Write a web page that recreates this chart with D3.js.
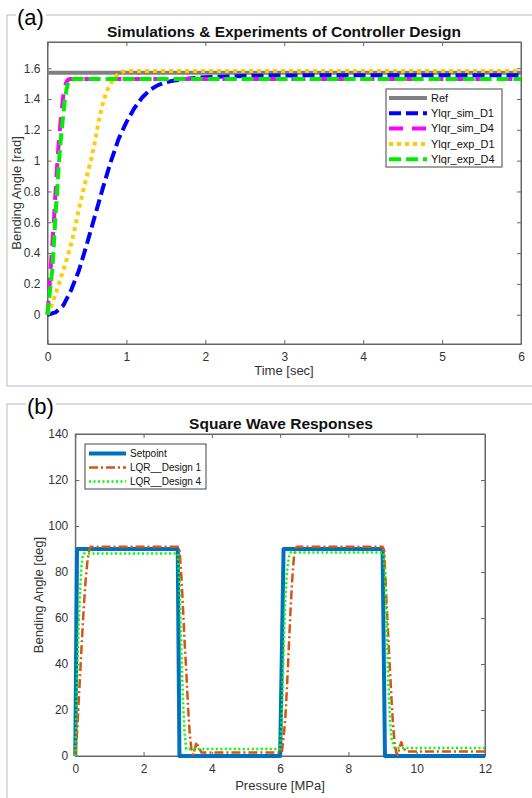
<!DOCTYPE html>
<html>
<head>
<meta charset="utf-8">
<script src="https://cdn.jsdelivr.net/npm/d3@7"></script>
<style>
  body { margin: 0; background: #fff; }
  svg { display: block; font-family: "Liberation Sans", Arial, sans-serif; }
</style>
</head>
<body>
<div id="chart"></div>
<script>
// ---- panel (a) data: time [sec] and bending angle [rad]
var refT = [0, 6];
var refV = [1.5708, 1.5708];

var simD1T = [0, 0.1, 0.2, 0.3, 0.4, 0.5, 0.6, 0.7, 0.8, 0.9, 1.0, 1.1, 1.2, 1.3, 1.4, 1.5, 1.6, 1.8, 2.0, 2.5, 3, 4, 5, 6];
var simD1V = [0, 0.015, 0.06, 0.16, 0.29, 0.46, 0.64, 0.82, 0.99, 1.14, 1.25, 1.34, 1.41, 1.46, 1.49, 1.508, 1.52, 1.533, 1.542, 1.55, 1.553, 1.555, 1.555, 1.555];

var simD4T = [0, 0.02, 0.04, 0.06, 0.08, 0.1, 0.12, 0.14, 0.16, 0.18, 0.2, 0.22, 0.24, 0.26, 0.28, 0.3, 0.4, 6];
var simD4V = [0, 0.15, 0.3, 0.45, 0.6, 0.78, 0.95, 1.1, 1.22, 1.33, 1.42, 1.48, 1.51, 1.525, 1.53, 1.53, 1.53, 1.53];

var expD1T = [0, 0.05, 0.1, 0.15, 0.2, 0.25, 0.3, 0.35, 0.4, 0.45, 0.5, 0.55, 0.6, 0.65, 0.7, 0.75, 0.8, 0.85, 0.9, 0.95, 1.0, 6];
var expD1V = [0, 0.06, 0.13, 0.21, 0.29, 0.37, 0.46, 0.57, 0.69, 0.8, 0.9, 1.0, 1.12, 1.26, 1.37, 1.45, 1.5, 1.54, 1.565, 1.578, 1.582, 1.582];

var expD4T = [0, 0.02, 0.04, 0.06, 0.08, 0.1, 0.12, 0.14, 0.16, 0.18, 0.2, 0.22, 0.24, 0.26, 0.28, 0.3, 0.35, 6];
var expD4V = [0, 0.1, 0.2, 0.29, 0.45, 0.64, 0.78, 0.95, 1.09, 1.2, 1.3, 1.4, 1.46, 1.5, 1.52, 1.527, 1.53, 1.53];

var aXTicks = [0, 1, 2, 3, 4, 5, 6];
var aYTicks = [0, 0.2, 0.4, 0.6, 0.8, 1, 1.2, 1.4, 1.6];

// ---- panel (b) data: pressure [MPa] and bending angle [deg]
var setT = [0, 0.05, 3.0, 3.05, 6.0, 6.1, 9.0, 9.07, 12];
var setV = [0, 90, 90, 0, 0, 90, 90, 0, 0];

var d1T = [0, 0.05, 0.1, 0.15, 0.2, 0.25, 0.3, 0.35, 0.4, 0.45, 3.0, 3.05, 3.1, 3.15, 3.2, 3.25, 3.3, 3.35, 3.4, 3.45, 3.5, 3.55, 3.6, 3.7,
  6.05, 6.1, 6.15, 6.2, 6.25, 6.3, 6.35, 6.4, 6.45, 6.5, 9.0, 9.05, 9.1, 9.15, 9.2, 9.25, 9.3, 9.35, 9.4, 9.45, 9.5, 9.55, 9.6, 9.7, 12];
var d1V = [0, 10, 24, 38, 52, 65, 76, 84, 89, 91, 91, 90, 80, 66, 50, 37, 22, 10, 3, 0.5, 3, 6, 4, 1.5,
  1.5, 8, 16, 30, 46, 62, 76, 86, 90.5, 91, 91, 89, 72, 57, 42, 28, 15, 6, 1.5, 0.5, 4, 6, 3.5, 2, 2];

var d4T = [0, 0.03, 0.06, 0.1, 0.14, 0.18, 0.22, 0.25, 3.0, 3.05, 3.1, 3.15, 3.2, 3.25,
  6.0, 6.05, 6.1, 6.15, 6.2, 6.25, 6.3, 9.02, 9.07, 9.12, 9.17, 9.22, 9.27, 9.35, 12];
var d4V = [0, 18, 38, 58, 72, 82, 87, 88, 88, 76, 50, 25, 10, 3,
  3, 18, 45, 68, 80, 86, 88.5, 88.5, 80, 58, 32, 15, 7, 3.5, 3.5];

var bXTicks = [0, 2, 4, 6, 8, 10, 12];
var bYTicks = [0, 20, 40, 60, 80, 100, 120, 140];

function zip(ts, vs) {
  return ts.map(function (t, i) { return [t, vs[i]]; });
}

var svg = d3.select("#chart").append("svg")
  .attr("width", 532)
  .attr("height", 798);

var axisColor = "#666";
var labelColor = "#333";

// cornice dei pannelli
svg.append("rect").attr("x", 7).attr("y", 15).attr("width", 540).attr("height", 371)
  .attr("fill", "none").attr("stroke", "#bbb");
svg.append("rect").attr("x", 7).attr("y", 404).attr("width", 540).attr("height", 410)
  .attr("fill", "none").attr("stroke", "#bbb");

function panelLabel(txt, x, y) {
  svg.append("rect").attr("x", x - 1).attr("y", y - 18).attr("width", 30).attr("height", 22).attr("fill", "#fff");
  svg.append("text").attr("x", x).attr("y", y).text(txt)
    .attr("font-size", "22px").attr("fill", "#000");
}

function drawAxes(g, x, y, xt, yt, fmtY) {
  var x0 = x.range()[0], x1 = x.range()[1];
  var y0 = y.range()[0], y1 = y.range()[1];

  g.append("rect").attr("x", x0).attr("y", y1).attr("width", x1 - x0).attr("height", y0 - y1)
    .attr("fill", "#fff");

  var bottom = g.append("g").attr("transform", "translate(0," + y0 + ")")
    .call(d3.axisBottom(x).tickValues(xt).tickSize(-4).tickSizeOuter(0).tickPadding(8).tickFormat(d3.format("d")));
  var top = g.append("g").attr("transform", "translate(0," + y1 + ")")
    .call(d3.axisTop(x).tickValues(xt).tickSize(-4).tickSizeOuter(0).tickFormat(""));
  var left = g.append("g").attr("transform", "translate(" + x0 + ",0)")
    .call(d3.axisLeft(y).tickValues(yt).tickSize(-4).tickSizeOuter(0).tickPadding(7).tickFormat(fmtY));
  var right = g.append("g").attr("transform", "translate(" + x1 + ",0)")
    .call(d3.axisRight(y).tickValues(yt).tickSize(-4).tickSizeOuter(0).tickFormat(""));

  [bottom, top, left, right].forEach(function (a) {
    a.selectAll("path, line").attr("stroke", axisColor);
    a.selectAll("text").attr("fill", labelColor).attr("font-size", "12px")
      .attr("font-family", "Liberation Sans, Arial, sans-serif");
  });
  // box completo
  g.append("rect").attr("x", x0).attr("y", y1).attr("width", x1 - x0).attr("height", y0 - y1)
    .attr("fill", "none").attr("stroke", axisColor);
}

function drawLine(g, x, y, data, s) {
  var line = d3.line()
    .x(function (d) { return x(d[0]); })
    .y(function (d) { return y(d[1]); });
  g.append("path").datum(data)
    .attr("d", line)
    .attr("fill", "none")
    .attr("stroke", s.color)
    .attr("stroke-width", s.width)
    .attr("stroke-dasharray", s.dash || null)
    .attr("stroke-linejoin", "round");
}

function drawLegend(g, series, box, fontSize) {
  g.append("rect").attr("x", box.x).attr("y", box.y).attr("width", box.w).attr("height", box.h)
    .attr("fill", "#fff").attr("stroke", "#444").attr("stroke-width", 1);
  series.forEach(function (s, i) {
    var yy = box.y0 + i * box.step;
    g.append("line").attr("x1", box.sx0).attr("x2", box.sx1).attr("y1", yy).attr("y2", yy)
      .attr("stroke", s.color).attr("stroke-width", s.width)
      .attr("stroke-dasharray", s.dash || null);
    g.append("text").attr("x", box.tx).attr("y", yy).attr("dy", "0.35em")
      .text(s.name).attr("font-size", fontSize).attr("fill", "#111");
  });
}

// ================= panel (a)
var gA = svg.append("g");
var xA = d3.scaleLinear().domain([0, 6]).range([47.5, 521]);
var yA = d3.scaleLinear().domain([-0.19, 1.77]).range([344, 42]);

drawAxes(gA, xA, yA, aXTicks, aYTicks, function (d) { return d3.format("")(+d.toFixed(1)); });

var seriesA = [
  { name: "Ref", data: zip(refT, refV), color: "#808080", width: 4 },
  { name: "Ylqr_sim_D1", data: zip(simD1T, simD1V), color: "#0000ff", width: 4, dash: "12,5" },
  { name: "Ylqr_sim_D4", data: zip(simD4T, simD4V), color: "#ff00ff", width: 4, dash: "14,9" },
  { name: "Ylqr_exp_D1", data: zip(expD1T, expD1V), color: "#ffcc00", width: 4, dash: "4,4" },
  { name: "Ylqr_exp_D4", data: zip(expD4T, expD4V), color: "#00ee00", width: 4, dash: "12,5" }
];
seriesA.forEach(function (s) { drawLine(gA, xA, yA, s.data, s); });

drawLegend(gA, seriesA, { x: 386, y: 89, w: 116, h: 78, y0: 98, step: 15.3, sx0: 389, sx1: 427, tx: 431 }, "11px");

gA.append("text").attr("x", 284).attr("y", 37).attr("text-anchor", "middle")
  .attr("font-size", "15.5px").attr("font-weight", "bold").attr("fill", "#111")
  .text("Simulations & Experiments of Controller Design");
gA.append("text").attr("x", 284).attr("y", 375).attr("text-anchor", "middle")
  .attr("font-size", "13px").attr("fill", labelColor).text("Time [sec]");
gA.append("text").attr("transform", "translate(21,193) rotate(-90)").attr("text-anchor", "middle")
  .attr("font-size", "13px").attr("fill", labelColor).text("Bending Angle [rad]");

panelLabel("(a)", 17, 25);

// ================= panel (b)
var gB = svg.append("g");
var xB = d3.scaleLinear().domain([0, 12]).range([75.3, 485]);
var yB = d3.scaleLinear().domain([0, 140]).range([756, 434]);

drawAxes(gB, xB, yB, bXTicks, bYTicks, d3.format("d"));

var seriesB = [
  { name: "Setpoint", data: zip(setT, setV), color: "#0072bd", width: 4 },
  { name: "LQR__Design 1", data: zip(d1T, d1V), color: "#d95319", width: 2.5, dash: "9,3,2,3" },
  { name: "LQR__Design 4", data: zip(d4T, d4V), color: "#00ff00", width: 2.5, dash: "2,2.5" }
];
seriesB.forEach(function (s) { drawLine(gB, xB, yB, s.data, s); });

drawLegend(gB, seriesB, { x: 85, y: 444, w: 121, h: 45, y0: 453.4, step: 14, sx0: 89, sx1: 126, tx: 130 }, "10px");

gB.append("text").attr("x", 281).attr("y", 429).attr("text-anchor", "middle")
  .attr("font-size", "15.5px").attr("font-weight", "bold").attr("fill", "#111")
  .text("Square Wave Responses");
gB.append("text").attr("x", 280).attr("y", 790).attr("text-anchor", "middle")
  .attr("font-size", "13px").attr("fill", labelColor).text("Pressure [MPa]");
gB.append("text").attr("transform", "translate(43,595) rotate(-90)").attr("text-anchor", "middle")
  .attr("font-size", "13px").attr("fill", labelColor).text("Bending Angle [deg]");

panelLabel("(b)", 27, 414);
</script>
</body>
</html>
